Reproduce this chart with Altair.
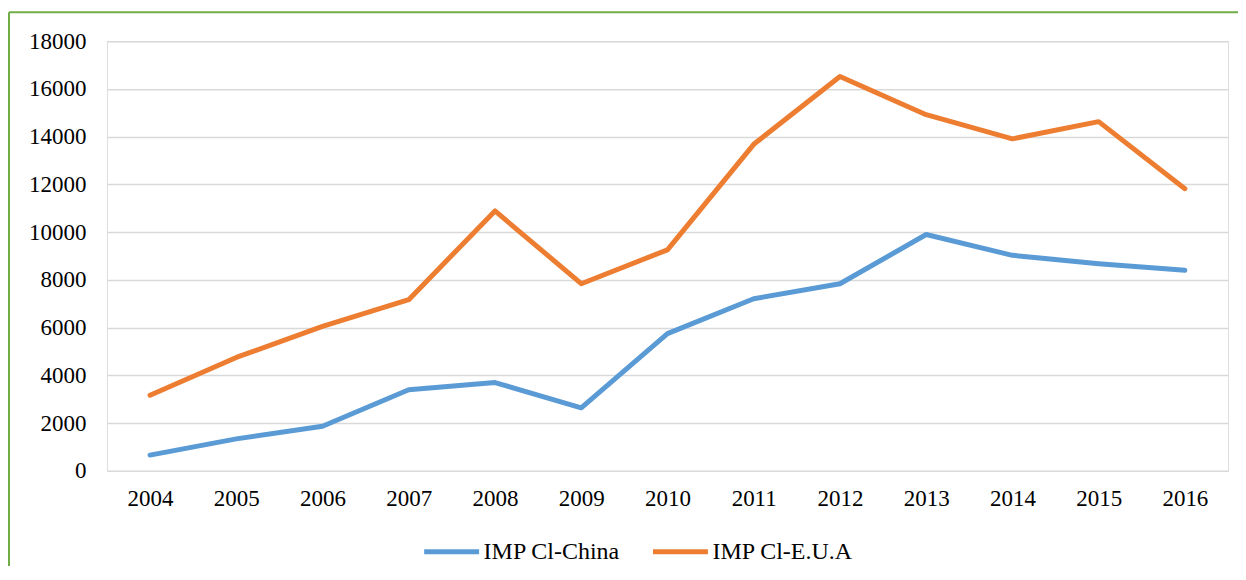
import altair as alt
import pandas as pd

years = ["2004", "2005", "2006", "2007", "2008", "2009", "2010",
         "2011", "2012", "2013", "2014", "2015", "2016"]
china = [660, 1340, 1870, 3400, 3700, 2640, 5750, 7210, 7840, 9900, 9030, 8680, 8400]
eua = [3170, 4750, 6050, 7170, 10890, 7840, 9260, 13680, 16520, 14920, 13910, 14630, 11820]
series_names = ["IMP Cl-China", "IMP Cl-E.U.A"]
series_colors = ["#5B9BD5", "#ED7D31"]
y_ticks = list(range(0, 18001, 2000))

rows = []
for i, yr in enumerate(years):
    rows.append({"year": yr, "serie": series_names[0], "valor": china[i]})
    rows.append({"year": yr, "serie": series_names[1], "valor": eua[i]})
df = pd.DataFrame(rows)

FONT = "Liberation Serif, Times New Roman, DejaVu Serif, serif"

lines = alt.Chart(df).mark_line(strokeWidth=5, strokeCap="round", strokeJoin="round").encode(
    x=alt.X("year:N", sort=years, title=None,
            scale=alt.Scale(type="point", padding=0.5),
            axis=alt.Axis(labelAngle=0, ticks=False, domain=False, grid=False,
                          labelFontSize=23, labelPadding=17, labelColor="#000000",
                          labelFont=FONT)),
    y=alt.Y("valor:Q", title=None,
            scale=alt.Scale(domain=[0, 18000], nice=False),
            axis=alt.Axis(values=y_ticks, format="d", ticks=False, domain=False,
                          gridColor="#D9D9D9", gridWidth=1.5,
                          labelFontSize=23, labelPadding=21, labelColor="#000000",
                          labelFont=FONT)),
    color=alt.Color("serie:N", sort=series_names,
                    scale=alt.Scale(domain=series_names, range=series_colors),
                    legend=alt.Legend(title=None, orient="none", direction="horizontal",
                                      legendX=315, legendY=481,
                                      symbolType="stroke", symbolSize=3025,
                                      symbolStrokeWidth=5, labelFontSize=24,
                                      labelFont=FONT, labelColor="#000000",
                                      labelOffset=2, columnPadding=22)),
)

frame_df = pd.DataFrame({"a": [0]})
vline = alt.Chart(frame_df).mark_rule(color="#70AD47", strokeWidth=2).encode(
    x=alt.value(-98), y=alt.value(-29), y2=alt.value(700))
hline = alt.Chart(frame_df).mark_rule(color="#70AD47", strokeWidth=2).encode(
    x=alt.value(-98), x2=alt.value(1400), y=alt.value(-29))

chart = alt.layer(vline, hline, lines).properties(
    width=1122, height=430,
    autosize=alt.AutoSizeParams(type="none"),
    padding={"left": 99, "top": 33, "right": 10, "bottom": 95},
).configure_view(stroke=None).configure(background="white", font=FONT)

chart.save("out.html", embed_options={"renderer": "svg", "actions": False})
